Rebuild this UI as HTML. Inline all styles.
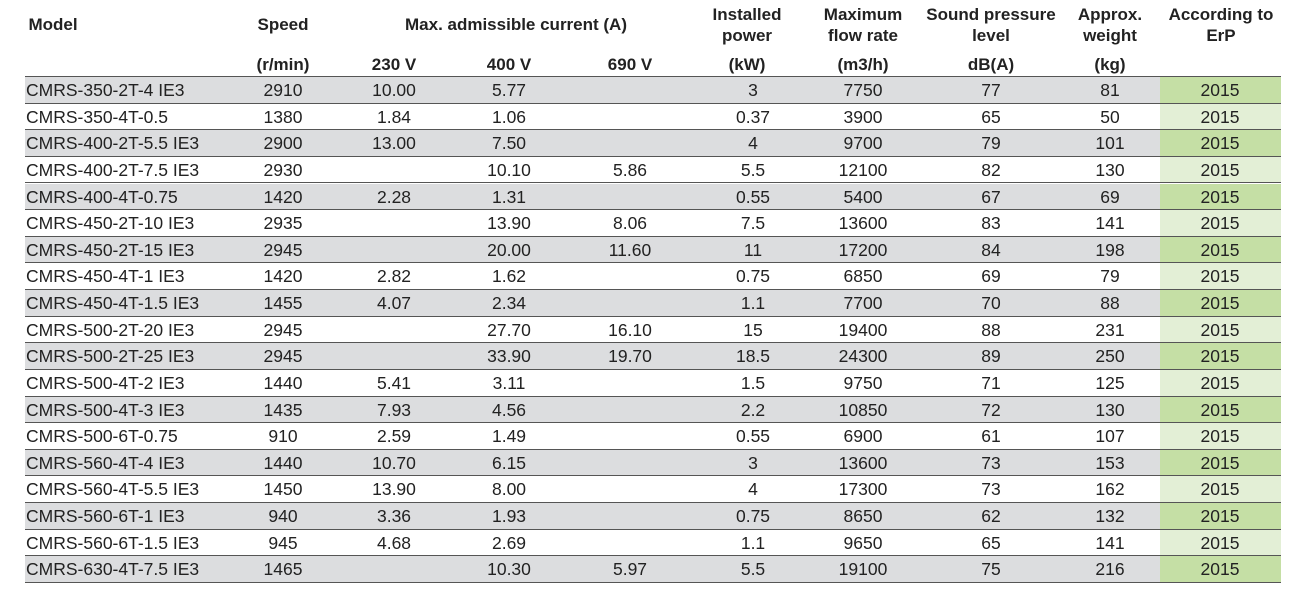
<!DOCTYPE html>
<html><head><meta charset="utf-8"><style>
body{margin:0;width:1290px;height:596px;background:#fff;font-family:"Liberation Sans",Arial,sans-serif;color:#222;position:relative;overflow:hidden}
.h{position:absolute;font-weight:bold;font-size:17px;text-align:center;line-height:21px;transform:translateX(-50%);white-space:nowrap}
.row{position:absolute;left:25px;width:1256px;height:26.6px;border-bottom:1.5px solid #555;box-sizing:border-box}
.row span{position:absolute;top:3px;font-size:17.5px;line-height:21px;transform:translateX(-50%);white-space:nowrap}
.row span.m{transform:none;left:1px}
.g{position:absolute;left:1135px;width:121px;top:0;bottom:0}
</style></head><body>
<div class="h" style="left:53px;top:14px">Model</div>
<div class="h" style="left:283px;top:14px">Speed</div>
<div class="h" style="left:516px;top:14px">Max. admissible current (A)</div>
<div class="h" style="left:747px;top:4px">Installed<br>power</div>
<div class="h" style="left:863px;top:4px">Maximum<br>flow rate</div>
<div class="h" style="left:991px;top:4px">Sound pressure<br>level</div>
<div class="h" style="left:1110px;top:4px">Approx.<br>weight</div>
<div class="h" style="left:1221px;top:4px">According to<br>ErP</div>
<div class="h" style="left:283px;top:54px">(r/min)</div>
<div class="h" style="left:394px;top:54px">230 V</div>
<div class="h" style="left:509px;top:54px">400 V</div>
<div class="h" style="left:630px;top:54px">690 V</div>
<div class="h" style="left:747px;top:54px">(kW)</div>
<div class="h" style="left:863px;top:54px">(m3/h)</div>
<div class="h" style="left:991px;top:54px">dB(A)</div>
<div class="h" style="left:1110px;top:54px">(kg)</div>
<div style="position:absolute;left:25px;top:76px;width:1256px;border-top:1.5px solid #555"></div>
<div id="t"></div>
<script>
var d=[["CMRS-350-2T-4 IE3",2910,"10.00","5.77","",3,7750,77,81],
["CMRS-350-4T-0.5",1380,"1.84","1.06","",0.37,3900,65,50],
["CMRS-400-2T-5.5 IE3",2900,"13.00","7.50","",4,9700,79,101],
["CMRS-400-2T-7.5 IE3",2930,"","10.10","5.86",5.5,12100,82,130],
["CMRS-400-4T-0.75",1420,"2.28","1.31","",0.55,5400,67,69],
["CMRS-450-2T-10 IE3",2935,"","13.90","8.06",7.5,13600,83,141],
["CMRS-450-2T-15 IE3",2945,"","20.00","11.60",11,17200,84,198],
["CMRS-450-4T-1 IE3",1420,"2.82","1.62","",0.75,6850,69,79],
["CMRS-450-4T-1.5 IE3",1455,"4.07","2.34","",1.1,7700,70,88],
["CMRS-500-2T-20 IE3",2945,"","27.70","16.10",15,19400,88,231],
["CMRS-500-2T-25 IE3",2945,"","33.90","19.70",18.5,24300,89,250],
["CMRS-500-4T-2 IE3",1440,"5.41","3.11","",1.5,9750,71,125],
["CMRS-500-4T-3 IE3",1435,"7.93","4.56","",2.2,10850,72,130],
["CMRS-500-6T-0.75",910,"2.59","1.49","",0.55,6900,61,107],
["CMRS-560-4T-4 IE3",1440,"10.70","6.15","",3,13600,73,153],
["CMRS-560-4T-5.5 IE3",1450,"13.90","8.00","",4,17300,73,162],
["CMRS-560-6T-1 IE3",940,"3.36","1.93","",0.75,8650,62,132],
["CMRS-560-6T-1.5 IE3",945,"4.68","2.69","",1.1,9650,65,141],
["CMRS-630-4T-7.5 IE3",1465,"","10.30","5.97",5.5,19100,75,216]];
var xs=[258,369,484,605,728,838,966,1085],h="";
d.forEach(function(r,i){var o=i%2==0;
h+='<div class="row" style="top:'+(77+i*26.63)+'px;background:'+(o?'#dcdddf':'#fff')+'"><div class="g" style="background:'+(o?'#c5dfa5':'#e3efd6')+'"></div><span class="m">'+r[0]+'</span>';
for(var j=1;j<9;j++)h+='<span style="left:'+xs[j-1]+'px">'+r[j]+'</span>';
h+='<span style="left:1195px">2015</span></div>';});
document.getElementById('t').innerHTML=h;
</script>
</body></html>
